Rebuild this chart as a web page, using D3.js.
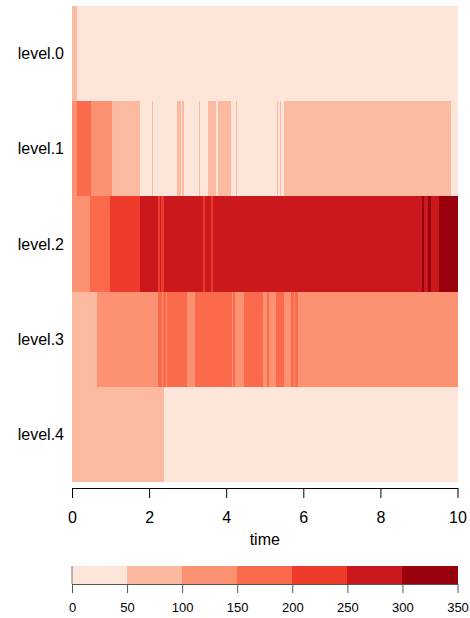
<!DOCTYPE html>
<html>
<head>
<meta charset="utf-8">
<script src="https://cdn.jsdelivr.net/npm/d3@7"></script>
<style>
  body { margin: 0; background: #fff; }
  svg { font-family: "Liberation Sans", Arial, sans-serif; }
</style>
</head>
<body>
<svg id="chart" width="470" height="618"></svg>
<script>
// rows of the heatmap
var levels = ['level.0', 'level.1', 'level.2', 'level.3', 'level.4']

// change points (time) and the value holding from each one to the next
var breaks0 = [0, 0.12, 10]
var values0 = [60, 20]

var breaks1 = [0, 0.12, 0.49, 1.03, 1.77, 2.07, 2.1, 2.72, 2.82, 2.86, 2.91, 3.3, 3.33,
  3.54, 3.74, 3.78, 4.12, 4.25, 4.29, 5.32, 5.35, 5.4, 5.43, 5.51, 9.84, 10]
var values1 = [120, 170, 125, 80, 30, 55, 25, 75, 30, 70, 35, 55, 30,
  80, 35, 75, 30, 60, 25, 55, 30, 55, 30, 85, 40]

var breaks2 = [0, 0.47, 0.99, 1.77, 2.22, 2.28, 2.32, 2.39, 3.4, 3.45, 3.6, 3.65,
  9.08, 9.14, 9.23, 9.32, 9.53, 10]
var values2 = [125, 175, 225, 280, 240, 270, 240, 285, 245, 280, 245, 290,
  305, 290, 310, 295, 320]

var breaks3 = [0, 0.65, 2.22, 2.34, 2.37, 2.45, 2.47, 2.99, 3.19, 4.14, 4.17, 4.24,
  4.47, 4.96, 5.05, 5.11, 5.28, 5.5, 5.68, 5.75, 5.78, 5.87, 10]
var values3 = [75, 120, 170, 140, 165, 145, 175, 135, 180, 145, 160, 130,
  170, 140, 160, 135, 165, 140, 160, 145, 155, 125]

var breaks4 = [0, 2.38, 10]
var values4 = [70, 30]

var xTicks = [0, 2, 4, 6, 8, 10]
var colorBreaks = [50, 100, 150, 200, 250, 300]
var legendTicks = [0, 50, 100, 150, 200, 250, 300, 350]

function toCells (level, breaks, values) {
  return values.map(function (v, i) {
    return { level: level, t0: breaks[i], t1: breaks[i + 1], value: v }
  })
}

var cells = [].concat(
  toCells(levels[0], breaks0, values0),
  toCells(levels[1], breaks1, values1),
  toCells(levels[2], breaks2, values2),
  toCells(levels[3], breaks3, values3),
  toCells(levels[4], breaks4, values4)
)

var svg = d3.select('#chart')

var x = d3.scaleLinear().domain([0, 10]).range([72, 457.5])
var y = d3.scaleBand().domain(levels).range([6, 482])
var color = d3.scaleThreshold().domain(colorBreaks).range(d3.schemeReds[7])

// cells
svg.append('g')
  .selectAll('rect')
  .data(cells)
  .join('rect')
  .attr('x', function (d) { return x(d.t0) })
  .attr('width', function (d) { return x(d.t1) - x(d.t0) + 0.3 })
  .attr('y', function (d) { return y(d.level) })
  .attr('height', y.bandwidth())
  .attr('fill', function (d) { return color(d.value) })
  .attr('shape-rendering', 'crispEdges')

// row labels
svg.append('g')
  .selectAll('text')
  .data(levels)
  .join('text')
  .attr('x', 64)
  .attr('y', function (d) { return y(d) + y.bandwidth() / 2 })
  .attr('dy', '0.35em')
  .attr('text-anchor', 'end')
  .style('font-size', '16px')
  .text(function (d) { return d })

// time axis
var xAxis = svg.append('g')
  .attr('transform', 'translate(0,488)')
  .call(d3.axisBottom(x).tickValues(xTicks).tickSize(10).tickSizeOuter(0).tickPadding(14))
xAxis.select('.domain').attr('stroke', '#000')
xAxis.selectAll('.tick line').attr('stroke', '#000')
xAxis.selectAll('text').style('font-size', '16px').attr('fill', '#000')
  .style('font-family', '"Liberation Sans", Arial, sans-serif')

svg.append('text')
  .attr('x', x(5))
  .attr('y', 545)
  .attr('text-anchor', 'middle')
  .style('font-size', '16px')
  .text('time')

// colour legend
var lx = d3.scaleLinear().domain([0, 350]).range([72, 457.5])
var bins = d3.range(7).map(function (i) { return [legendTicks[i], legendTicks[i + 1]] })

svg.append('g')
  .selectAll('rect')
  .data(bins)
  .join('rect')
  .attr('x', function (d) { return lx(d[0]) })
  .attr('width', function (d) { return lx(d[1]) - lx(d[0]) + 0.3 })
  .attr('y', 566)
  .attr('height', 18)
  .attr('fill', function (d) { return color(d[0]) })
  .attr('shape-rendering', 'crispEdges')

svg.append('line')
  .attr('x1', lx(0)).attr('x2', lx(0))
  .attr('y1', 566).attr('y2', 584)
  .attr('stroke', '#777')

var lAxis = svg.append('g')
  .attr('transform', 'translate(0,584)')
  .call(d3.axisBottom(lx).tickValues(legendTicks).tickSize(9).tickSizeOuter(0).tickPadding(10))
lAxis.select('.domain').attr('stroke', '#555')
lAxis.selectAll('.tick line').attr('stroke', '#555')
lAxis.selectAll('text').style('font-size', '13px').attr('fill', '#000')
  .style('font-family', '"Liberation Sans", Arial, sans-serif')
</script>
</body>
</html>
